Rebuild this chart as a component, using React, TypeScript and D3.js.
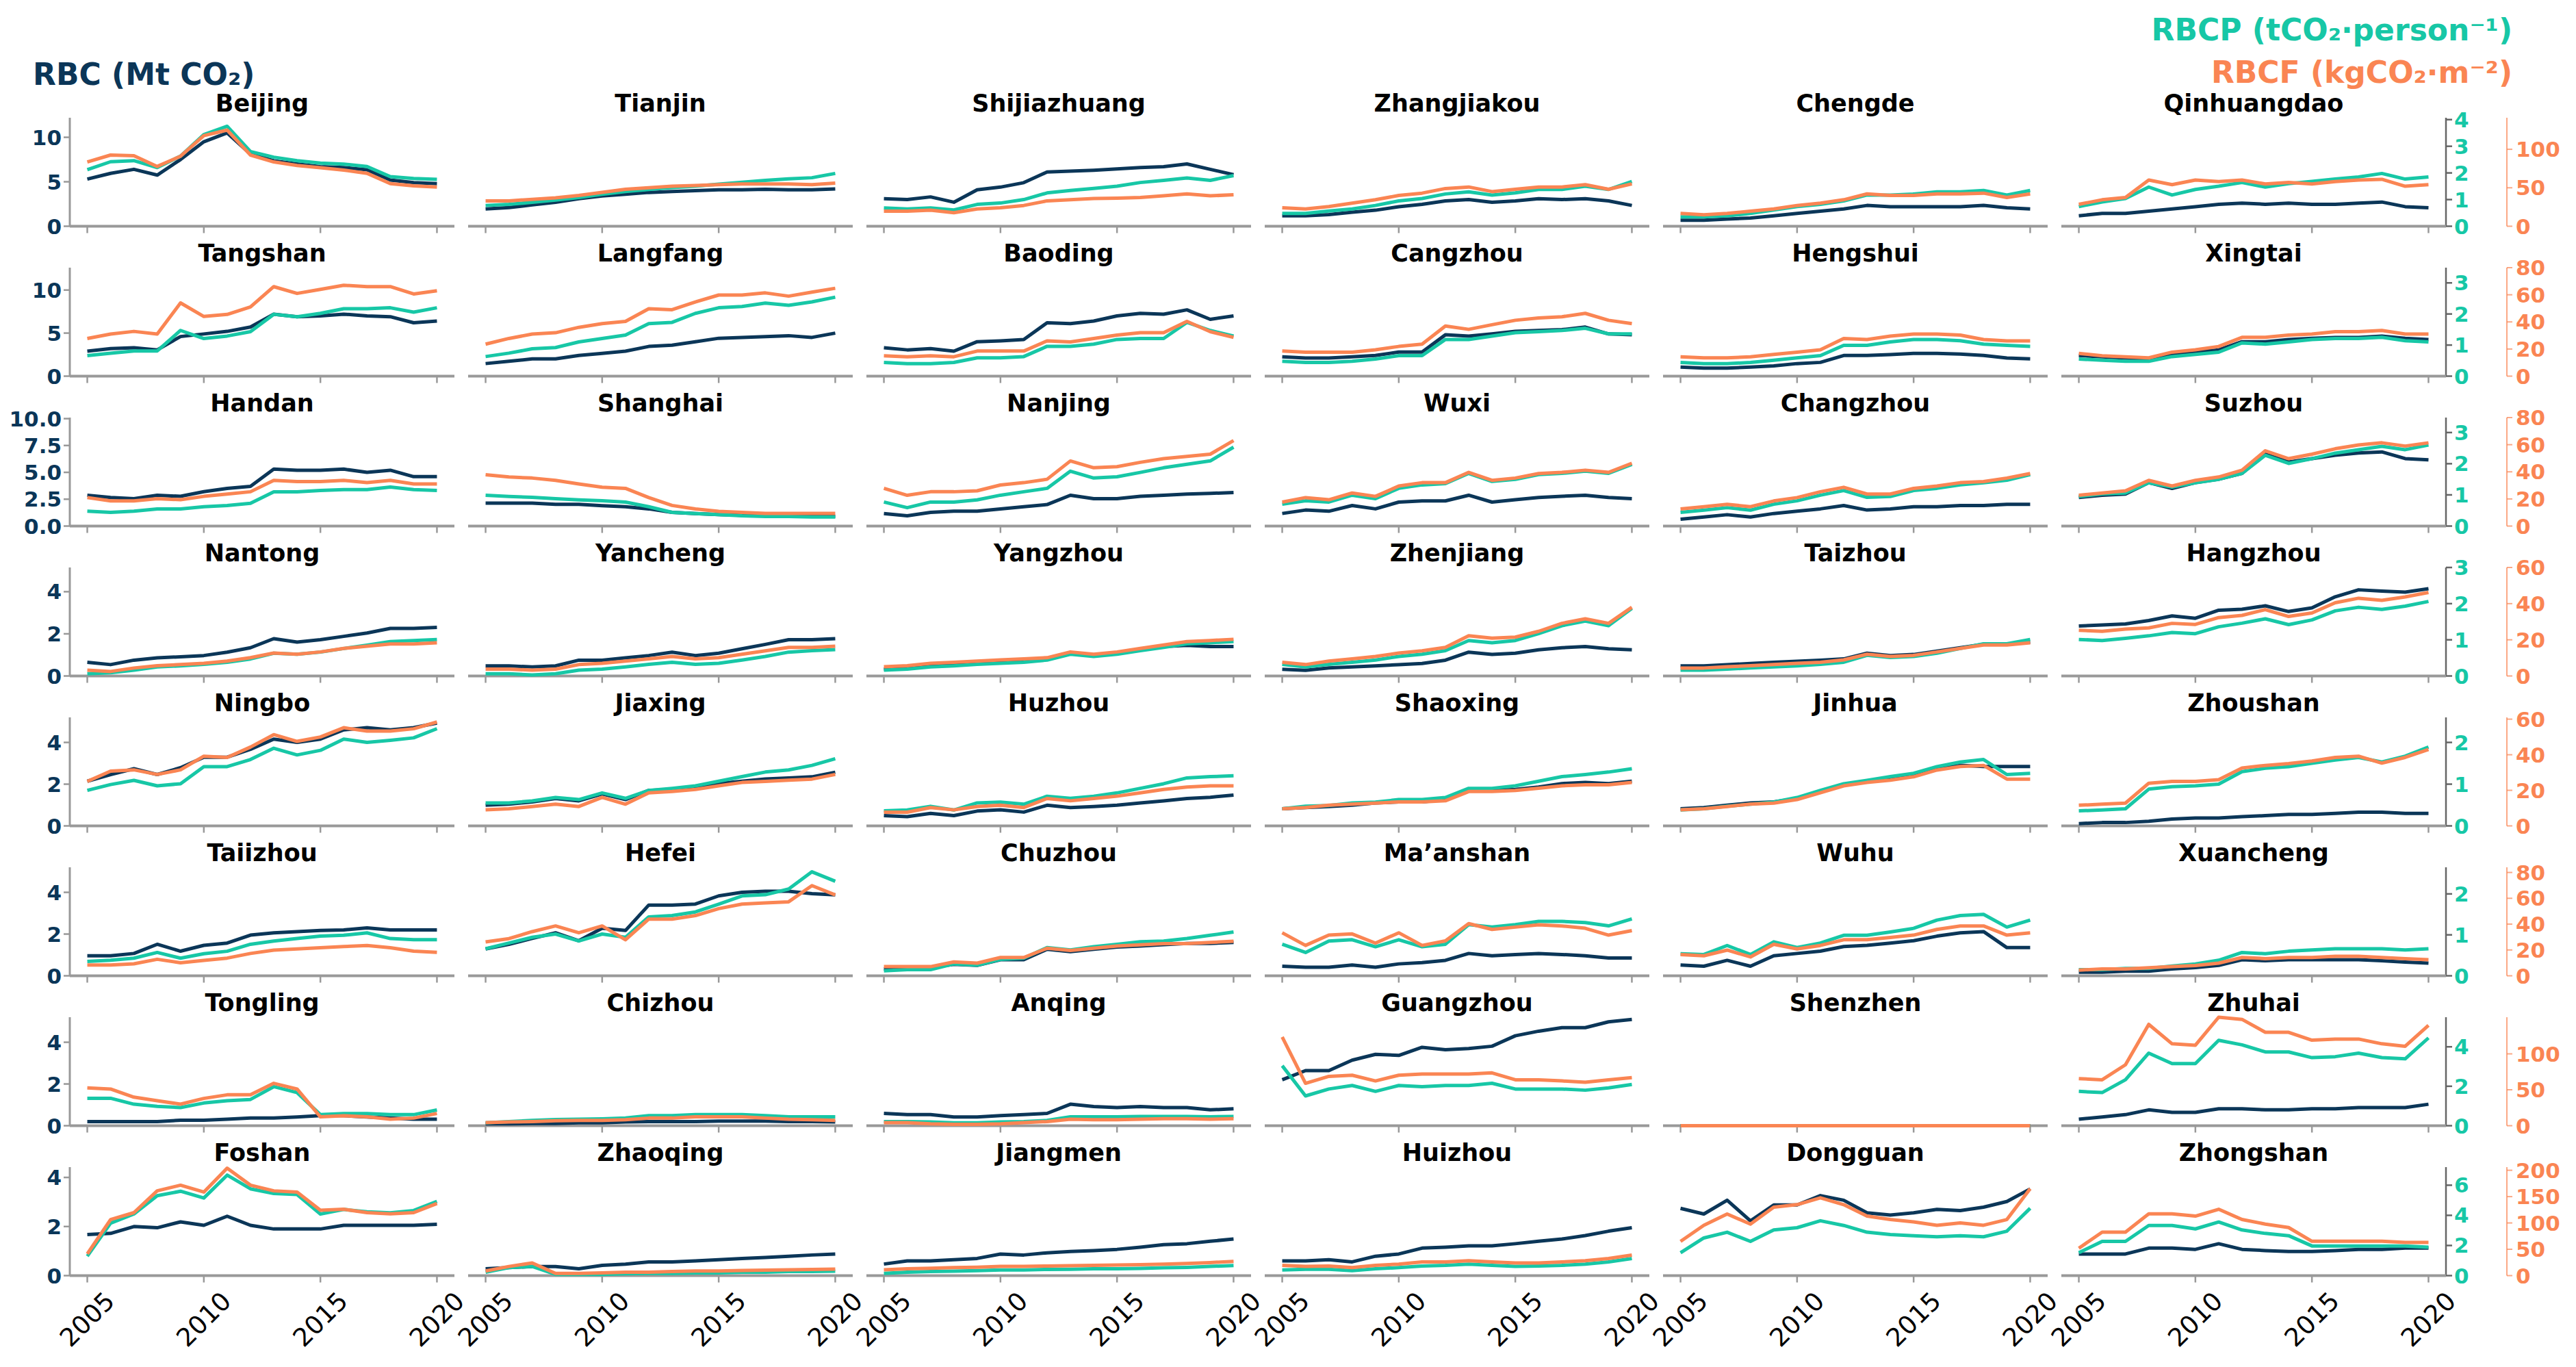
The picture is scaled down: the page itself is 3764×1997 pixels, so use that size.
import * as d3 from "d3"

const years = [2005, 2006, 2007, 2008, 2009, 2010, 2011, 2012, 2013, 2014, 2015, 2016, 2017, 2018, 2019, 2020]
const xTicks = [2005, 2010, 2015, 2020]

const cities = [
  "Beijing", "Tianjin", "Shijiazhuang", "Zhangjiakou", "Chengde", "Qinhuangdao",
  "Tangshan", "Langfang", "Baoding", "Cangzhou", "Hengshui", "Xingtai",
  "Handan", "Shanghai", "Nanjing", "Wuxi", "Changzhou", "Suzhou",
  "Nantong", "Yancheng", "Yangzhou", "Zhenjiang", "Taizhou", "Hangzhou",
  "Ningbo", "Jiaxing", "Huzhou", "Shaoxing", "Jinhua", "Zhoushan",
  "Taiizhou", "Hefei", "Chuzhou", "Ma\u2019anshan", "Wuhu", "Xuancheng",
  "Tongling", "Chizhou", "Anqing", "Guangzhou", "Shenzhen", "Zhuhai",
  "Foshan", "Zhaoqing", "Jiangmen", "Huizhou", "Dongguan", "Zhongshan",
]

// RBC (Mt CO2), left axis
const rbc = [
  [5.3, 5.95, 6.4, 5.75, 7.5, 9.5, 10.5, 8.1, 7.35, 7.0, 6.7, 6.6, 6.35, 5.2, 4.9, 4.8],
  [1.95, 2.1, 2.4, 2.7, 3.1, 3.4, 3.6, 3.8, 3.9, 4.0, 4.1, 4.1, 4.15, 4.1, 4.1, 4.2],
  [3.1, 3.0, 3.3, 2.7, 4.1, 4.4, 4.9, 6.1, 6.2, 6.3, 6.45, 6.6, 6.7, 7.0, 6.4, 5.8],
  [1.18, 1.18, 1.3, 1.57, 1.8, 2.2, 2.47, 2.85, 3.0, 2.7, 2.85, 3.1, 3.0, 3.1, 2.85, 2.34],
  [0.67, 0.67, 0.8, 0.93, 1.18, 1.44, 1.7, 1.95, 2.34, 2.2, 2.2, 2.2, 2.2, 2.34, 2.08, 1.95],
  [1.18, 1.44, 1.44, 1.7, 1.95, 2.2, 2.47, 2.6, 2.47, 2.6, 2.47, 2.47, 2.6, 2.72, 2.2, 2.08],
  [2.9, 3.2, 3.3, 3.05, 4.6, 4.9, 5.2, 5.7, 7.2, 6.9, 7.0, 7.2, 7.0, 6.9, 6.2, 6.4],
  [1.46, 1.72, 2.0, 2.0, 2.4, 2.65, 2.9, 3.45, 3.6, 4.0, 4.4, 4.5, 4.6, 4.7, 4.5, 5.0],
  [3.3, 3.05, 3.2, 2.9, 4.0, 4.1, 4.25, 6.2, 6.1, 6.4, 7.0, 7.3, 7.2, 7.7, 6.6, 7.0],
  [2.25, 2.1, 2.1, 2.25, 2.4, 2.8, 2.8, 4.8, 4.65, 4.9, 5.2, 5.3, 5.4, 5.7, 4.9, 4.8],
  [1.06, 0.93, 0.93, 1.06, 1.2, 1.46, 1.6, 2.4, 2.4, 2.5, 2.65, 2.65, 2.57, 2.4, 2.1, 2.0],
  [2.4, 2.25, 2.1, 2.0, 2.5, 2.8, 3.05, 4.0, 4.0, 4.25, 4.4, 4.5, 4.5, 4.65, 4.4, 4.25],
  [2.87, 2.66, 2.55, 2.87, 2.77, 3.2, 3.5, 3.7, 5.3, 5.2, 5.2, 5.3, 5.0, 5.2, 4.6, 4.6],
  [2.13, 2.13, 2.13, 2.02, 2.02, 1.9, 1.8, 1.6, 1.28, 1.17, 1.06, 1.0, 0.96, 0.91, 0.91, 0.91],
  [1.17, 0.96, 1.28, 1.38, 1.38, 1.6, 1.8, 2.0, 2.87, 2.55, 2.55, 2.77, 2.87, 2.98, 3.04, 3.13],
  [1.17, 1.49, 1.38, 1.91, 1.6, 2.23, 2.34, 2.34, 2.87, 2.23, 2.45, 2.66, 2.77, 2.87, 2.66, 2.55],
  [0.64, 0.85, 1.06, 0.85, 1.17, 1.38, 1.6, 1.91, 1.49, 1.6, 1.8, 1.8, 1.91, 1.91, 2.02, 2.02],
  [2.66, 2.87, 2.98, 4.04, 3.5, 4.04, 4.36, 4.9, 6.7, 5.96, 6.28, 6.6, 6.8, 6.9, 6.28, 6.17],
  [0.65, 0.54, 0.75, 0.86, 0.91, 0.97, 1.13, 1.34, 1.77, 1.61, 1.72, 1.88, 2.04, 2.26, 2.26, 2.31],
  [0.48, 0.48, 0.43, 0.48, 0.75, 0.75, 0.86, 0.97, 1.13, 0.97, 1.08, 1.29, 1.5, 1.72, 1.72, 1.77],
  [0.32, 0.43, 0.54, 0.59, 0.65, 0.7, 0.75, 0.81, 1.08, 0.97, 1.08, 1.24, 1.4, 1.45, 1.4, 1.4],
  [0.32, 0.27, 0.38, 0.43, 0.48, 0.54, 0.59, 0.75, 1.13, 1.02, 1.08, 1.24, 1.34, 1.4, 1.29, 1.24],
  [0.48, 0.48, 0.54, 0.59, 0.65, 0.7, 0.75, 0.81, 1.08, 0.97, 1.02, 1.18, 1.34, 1.5, 1.5, 1.61],
  [2.37, 2.42, 2.47, 2.63, 2.85, 2.74, 3.12, 3.17, 3.33, 3.06, 3.23, 3.76, 4.09, 4.03, 3.98, 4.14],
  [2.14, 2.46, 2.74, 2.46, 2.79, 3.29, 3.29, 3.67, 4.16, 4.0, 4.16, 4.6, 4.71, 4.6, 4.71, 4.93],
  [0.99, 1.04, 1.15, 1.31, 1.2, 1.53, 1.26, 1.7, 1.75, 1.86, 2.03, 2.14, 2.25, 2.3, 2.35, 2.57],
  [0.49, 0.44, 0.6, 0.49, 0.71, 0.77, 0.66, 0.99, 0.88, 0.93, 0.99, 1.1, 1.2, 1.31, 1.37, 1.48],
  [0.82, 0.88, 0.93, 0.99, 1.1, 1.15, 1.15, 1.26, 1.7, 1.7, 1.75, 1.86, 2.03, 2.08, 2.03, 2.14],
  [0.82, 0.88, 0.99, 1.1, 1.15, 1.31, 1.64, 1.97, 2.14, 2.3, 2.46, 2.74, 2.9, 2.85, 2.85, 2.85],
  [0.11, 0.16, 0.16, 0.22, 0.33, 0.38, 0.38, 0.44, 0.49, 0.55, 0.55, 0.6, 0.66, 0.66, 0.6, 0.6],
  [0.96, 0.96, 1.07, 1.51, 1.18, 1.46, 1.57, 1.95, 2.06, 2.12, 2.17, 2.2, 2.3, 2.2, 2.2, 2.2],
  [1.29, 1.51, 1.79, 2.06, 1.68, 2.28, 2.17, 3.39, 3.39, 3.44, 3.83, 4.0, 4.05, 4.05, 3.94, 3.88],
  [0.33, 0.33, 0.39, 0.55, 0.5, 0.77, 0.77, 1.27, 1.16, 1.27, 1.38, 1.43, 1.49, 1.55, 1.55, 1.6],
  [0.46, 0.41, 0.41, 0.52, 0.41, 0.57, 0.63, 0.74, 1.07, 0.96, 1.02, 1.07, 1.02, 0.96, 0.85, 0.85],
  [0.52, 0.46, 0.74, 0.46, 0.96, 1.07, 1.18, 1.4, 1.46, 1.57, 1.68, 1.9, 2.06, 2.12, 1.35, 1.35],
  [0.17, 0.17, 0.22, 0.22, 0.33, 0.39, 0.5, 0.77, 0.72, 0.77, 0.77, 0.77, 0.77, 0.72, 0.66, 0.61],
  [0.2, 0.2, 0.2, 0.2, 0.26, 0.26, 0.31, 0.37, 0.37, 0.42, 0.48, 0.48, 0.42, 0.37, 0.31, 0.31],
  [0.09, 0.09, 0.11, 0.11, 0.14, 0.14, 0.18, 0.2, 0.2, 0.2, 0.22, 0.22, 0.22, 0.2, 0.2, 0.18],
  [0.59, 0.53, 0.53, 0.42, 0.42, 0.48, 0.53, 0.59, 1.03, 0.92, 0.87, 0.92, 0.87, 0.87, 0.76, 0.81],
  [2.2, 2.64, 2.64, 3.14, 3.42, 3.37, 3.76, 3.64, 3.7, 3.81, 4.31, 4.53, 4.7, 4.7, 4.98, 5.09],
  [0, 0, 0, 0, 0, 0, 0, 0, 0, 0, 0, 0, 0, 0, 0, 0],
  [0.31, 0.42, 0.53, 0.76, 0.64, 0.64, 0.81, 0.81, 0.76, 0.76, 0.81, 0.81, 0.87, 0.87, 0.87, 1.03],
  [1.67, 1.72, 2.0, 1.95, 2.19, 2.05, 2.42, 2.05, 1.9, 1.9, 1.9, 2.05, 2.05, 2.05, 2.05, 2.09],
  [0.28, 0.33, 0.37, 0.37, 0.28, 0.42, 0.47, 0.56, 0.56, 0.6, 0.65, 0.7, 0.74, 0.79, 0.84, 0.88],
  [0.47, 0.6, 0.6, 0.65, 0.7, 0.88, 0.84, 0.93, 0.98, 1.02, 1.07, 1.16, 1.26, 1.3, 1.4, 1.49],
  [0.6, 0.6, 0.65, 0.56, 0.79, 0.88, 1.12, 1.16, 1.21, 1.21, 1.3, 1.4, 1.49, 1.63, 1.81, 1.95],
  [2.74, 2.51, 3.07, 2.23, 2.88, 2.88, 3.26, 3.07, 2.56, 2.47, 2.56, 2.7, 2.65, 2.79, 3.02, 3.53],
  [0.88, 0.88, 0.88, 1.12, 1.12, 1.07, 1.3, 1.07, 1.02, 0.98, 0.98, 1.02, 1.07, 1.07, 1.12, 1.12],
]

// RBCP (tCO2 per person), first right axis
const rbcp = [
  [2.12, 2.42, 2.46, 2.2, 2.63, 3.44, 3.75, 2.8, 2.59, 2.46, 2.37, 2.33, 2.24, 1.86, 1.79, 1.76],
  [0.78, 0.82, 0.9, 0.98, 1.08, 1.2, 1.3, 1.38, 1.45, 1.5, 1.58, 1.65, 1.72, 1.78, 1.82, 1.98],
  [0.69, 0.65, 0.69, 0.61, 0.82, 0.87, 1.0, 1.25, 1.34, 1.42, 1.5, 1.64, 1.72, 1.81, 1.72, 1.9],
  [0.48, 0.48, 0.57, 0.65, 0.78, 0.95, 1.04, 1.21, 1.29, 1.17, 1.25, 1.38, 1.38, 1.5, 1.38, 1.68],
  [0.35, 0.35, 0.39, 0.48, 0.61, 0.74, 0.82, 0.95, 1.17, 1.17, 1.21, 1.29, 1.29, 1.34, 1.17, 1.34],
  [0.74, 0.91, 1.04, 1.47, 1.17, 1.38, 1.5, 1.64, 1.47, 1.6, 1.68, 1.77, 1.85, 1.98, 1.77, 1.85],
  [0.66, 0.74, 0.81, 0.81, 1.47, 1.21, 1.29, 1.43, 1.99, 1.91, 2.02, 2.17, 2.17, 2.2, 2.06, 2.2],
  [0.63, 0.74, 0.88, 0.92, 1.1, 1.21, 1.32, 1.69, 1.73, 2.02, 2.2, 2.24, 2.35, 2.28, 2.39, 2.54],
  [0.44, 0.4, 0.4, 0.44, 0.59, 0.59, 0.63, 0.96, 0.96, 1.03, 1.18, 1.21, 1.21, 1.73, 1.47, 1.29],
  [0.48, 0.44, 0.44, 0.48, 0.55, 0.66, 0.66, 1.18, 1.18, 1.29, 1.4, 1.43, 1.47, 1.54, 1.36, 1.36],
  [0.44, 0.4, 0.4, 0.44, 0.51, 0.59, 0.66, 0.99, 0.99, 1.1, 1.18, 1.18, 1.14, 1.03, 0.99, 0.96],
  [0.55, 0.51, 0.48, 0.48, 0.63, 0.7, 0.77, 1.07, 1.03, 1.1, 1.18, 1.21, 1.21, 1.25, 1.14, 1.1],
  [0.48, 0.44, 0.48, 0.55, 0.55, 0.62, 0.66, 0.73, 1.1, 1.1, 1.14, 1.17, 1.17, 1.25, 1.17, 1.14],
  [0.99, 0.95, 0.92, 0.88, 0.84, 0.81, 0.77, 0.62, 0.44, 0.4, 0.37, 0.33, 0.31, 0.31, 0.29, 0.29],
  [0.77, 0.59, 0.77, 0.77, 0.84, 0.99, 1.1, 1.21, 1.76, 1.54, 1.58, 1.72, 1.87, 1.98, 2.09, 2.53],
  [0.7, 0.81, 0.77, 0.99, 0.88, 1.21, 1.32, 1.36, 1.69, 1.43, 1.5, 1.65, 1.69, 1.76, 1.69, 1.98],
  [0.44, 0.51, 0.59, 0.51, 0.7, 0.81, 0.99, 1.14, 0.92, 0.95, 1.14, 1.21, 1.32, 1.39, 1.47, 1.65],
  [0.95, 1.03, 1.06, 1.39, 1.25, 1.39, 1.5, 1.69, 2.27, 2.01, 2.16, 2.34, 2.45, 2.56, 2.45, 2.6],
  [0.06, 0.09, 0.16, 0.25, 0.28, 0.32, 0.38, 0.47, 0.63, 0.6, 0.66, 0.76, 0.85, 0.95, 0.98, 1.01],
  [0.06, 0.06, 0.03, 0.06, 0.16, 0.19, 0.25, 0.32, 0.38, 0.32, 0.35, 0.44, 0.54, 0.66, 0.7, 0.73],
  [0.16, 0.19, 0.25, 0.28, 0.32, 0.35, 0.38, 0.44, 0.6, 0.54, 0.6, 0.7, 0.79, 0.89, 0.92, 0.95],
  [0.32, 0.25, 0.32, 0.38, 0.44, 0.54, 0.6, 0.7, 0.98, 0.92, 0.98, 1.17, 1.39, 1.52, 1.39, 1.87],
  [0.16, 0.16, 0.19, 0.22, 0.25, 0.28, 0.32, 0.38, 0.57, 0.51, 0.54, 0.63, 0.76, 0.89, 0.89, 1.01],
  [1.01, 0.98, 1.04, 1.11, 1.2, 1.17, 1.36, 1.46, 1.58, 1.42, 1.55, 1.8, 1.9, 1.84, 1.93, 2.06],
  [0.85, 0.99, 1.09, 0.96, 1.01, 1.42, 1.42, 1.59, 1.86, 1.7, 1.81, 2.08, 2.0, 2.05, 2.11, 2.33],
  [0.55, 0.55, 0.6, 0.68, 0.63, 0.79, 0.66, 0.85, 0.9, 0.96, 1.07, 1.18, 1.29, 1.34, 1.45, 1.61],
  [0.36, 0.38, 0.47, 0.38, 0.55, 0.57, 0.52, 0.71, 0.66, 0.71, 0.79, 0.9, 1.01, 1.15, 1.18, 1.2],
  [0.41, 0.47, 0.49, 0.55, 0.57, 0.63, 0.63, 0.68, 0.9, 0.9, 0.96, 1.07, 1.18, 1.23, 1.29, 1.37],
  [0.38, 0.41, 0.47, 0.52, 0.57, 0.68, 0.85, 1.01, 1.09, 1.18, 1.26, 1.42, 1.53, 1.59, 1.23, 1.26],
  [0.36, 0.38, 0.41, 0.88, 0.94, 0.96, 1.0, 1.3, 1.38, 1.42, 1.5, 1.58, 1.64, 1.53, 1.67, 1.89],
  [0.35, 0.38, 0.43, 0.57, 0.43, 0.54, 0.6, 0.77, 0.85, 0.91, 0.97, 0.99, 1.05, 0.91, 0.88, 0.88],
  [0.66, 0.8, 0.94, 1.02, 0.85, 1.02, 0.94, 1.44, 1.47, 1.56, 1.75, 1.95, 1.98, 2.12, 2.54, 2.31],
  [0.12, 0.15, 0.15, 0.29, 0.26, 0.4, 0.43, 0.69, 0.63, 0.71, 0.77, 0.83, 0.85, 0.91, 0.99, 1.07],
  [0.77, 0.57, 0.85, 0.88, 0.71, 0.88, 0.71, 0.77, 1.25, 1.19, 1.25, 1.33, 1.33, 1.3, 1.22, 1.39],
  [0.54, 0.52, 0.74, 0.52, 0.83, 0.69, 0.8, 0.99, 0.99, 1.07, 1.16, 1.36, 1.47, 1.5, 1.19, 1.36],
  [0.15, 0.15, 0.18, 0.18, 0.24, 0.29, 0.38, 0.57, 0.54, 0.6, 0.63, 0.66, 0.66, 0.66, 0.63, 0.66],
  [1.39, 1.39, 1.09, 0.98, 0.92, 1.15, 1.27, 1.33, 1.98, 1.68, 0.56, 0.62, 0.62, 0.56, 0.56, 0.8],
  [0.15, 0.21, 0.27, 0.31, 0.33, 0.35, 0.39, 0.51, 0.51, 0.56, 0.56, 0.56, 0.51, 0.45, 0.45, 0.45],
  [0.21, 0.21, 0.19, 0.15, 0.15, 0.19, 0.21, 0.27, 0.45, 0.45, 0.45, 0.47, 0.47, 0.47, 0.45, 0.47],
  [3.04, 1.51, 1.86, 2.04, 1.74, 2.04, 1.98, 2.04, 2.04, 2.15, 1.86, 1.86, 1.86, 1.8, 1.92, 2.09],
  [0, 0, 0, 0, 0, 0, 0, 0, 0, 0, 0, 0, 0, 0, 0, 0],
  [1.74, 1.68, 2.33, 3.68, 3.15, 3.15, 4.33, 4.1, 3.74, 3.74, 3.45, 3.5, 3.68, 3.45, 3.39, 4.45],
  [1.29, 3.48, 4.09, 5.3, 5.6, 5.15, 6.67, 5.76, 5.45, 5.38, 4.09, 4.39, 4.24, 4.17, 4.32, 4.92],
  [0.23, 0.53, 0.61, 0.08, 0.08, 0.08, 0.12, 0.15, 0.15, 0.18, 0.18, 0.23, 0.23, 0.27, 0.27, 0.3],
  [0.15, 0.23, 0.27, 0.3, 0.33, 0.38, 0.38, 0.41, 0.42, 0.45, 0.45, 0.48, 0.52, 0.55, 0.61, 0.67],
  [0.38, 0.42, 0.42, 0.33, 0.45, 0.53, 0.64, 0.68, 0.76, 0.68, 0.61, 0.64, 0.68, 0.76, 0.91, 1.14],
  [1.52, 2.5, 2.88, 2.27, 3.03, 3.18, 3.64, 3.33, 2.88, 2.73, 2.65, 2.58, 2.65, 2.58, 2.95, 4.47],
  [1.52, 2.27, 2.27, 3.33, 3.33, 3.1, 3.56, 3.03, 2.8, 2.65, 1.97, 1.97, 1.97, 1.97, 1.97, 1.89],
]

// RBCF (kgCO2 per m2), second right axis
const rbcf = [
  [83.6, 92.5, 91.6, 77.7, 91, 117.7, 125, 92.5, 83.6, 79, 76, 73, 68.8, 55.4, 52.5, 51],
  [33, 33, 35, 37, 40, 44, 48, 50, 52, 53, 54, 55, 55, 55, 54, 56],
  [19.6, 19.6, 21, 17.5, 22.5, 24, 27, 33, 34.4, 36, 36.5, 37.4, 39.5, 42, 39.5, 41],
  [24, 22.5, 25.5, 30, 34.4, 40, 43, 49, 51, 45, 48, 51, 51, 54, 48, 55],
  [16.6, 15, 16.6, 19.6, 22.5, 27, 30, 34.4, 42, 40, 40, 42, 42, 43, 37.4, 42],
  [28.5, 34.4, 37.4, 60, 54, 60, 58, 60, 55, 57, 55, 58, 60, 61, 52, 54],
  [27.8, 31, 33, 31, 54, 44, 45.5, 51, 66, 61, 64, 67, 66, 66, 60.6, 63],
  [23.6, 27.8, 31, 32, 36, 38.7, 40.4, 49.7, 49, 54.7, 59.8, 59.8, 61.4, 59, 62, 64.8],
  [15, 14.3, 15, 14.3, 18.5, 18.5, 18.5, 26, 25.2, 27.8, 30.3, 32, 32, 40.4, 32.8, 28.6],
  [18.5, 17.7, 17.7, 17.7, 19.4, 21.9, 23.6, 37, 34.5, 37.9, 41.2, 42.9, 43.8, 46.3, 41.2, 38.7],
  [14.3, 13.5, 13.5, 14.3, 16, 17.7, 19.4, 27.8, 27, 29.5, 31, 31, 30.3, 27, 26, 26],
  [16.8, 15, 14.3, 13.5, 17.7, 19.4, 21.9, 28.6, 28.6, 30.3, 31, 32.8, 32.8, 33.7, 31, 31],
  [21, 18.5, 18.5, 20.2, 19.4, 21.9, 23.6, 25.3, 33.7, 32.8, 32.8, 33.7, 32, 33.7, 31, 31],
  [37.9, 36.2, 35.4, 33.7, 31, 28.6, 27.8, 21, 15.2, 12.6, 10.9, 10.1, 9.3, 9.3, 9.3, 9.3],
  [27.8, 22.7, 25.3, 25.3, 26, 30.3, 32, 34.5, 48, 43, 43.8, 47, 49.7, 51.3, 53, 63],
  [17.7, 21, 19.4, 24.4, 21.9, 29.5, 32, 32, 39.6, 33.7, 35.4, 38.7, 39.6, 41.2, 39.6, 46.3],
  [12.6, 14.3, 16, 14.3, 18.5, 21, 25.3, 28.6, 23.6, 23.6, 27.8, 29.5, 32, 32.8, 35.4, 38.7],
  [22.7, 24.4, 26, 33.7, 29.5, 33.7, 36.2, 41.2, 55.5, 49.7, 53, 57, 59.8, 61.4, 59, 61.4],
  [3.2, 2.5, 4.4, 5.7, 6.3, 7, 8.2, 10.1, 12.7, 12, 13.3, 15.2, 16.5, 17.7, 17.7, 18.4],
  [3.8, 3.8, 3.2, 3.8, 6.3, 7, 8.2, 9.5, 10.8, 9.5, 10.1, 12, 13.9, 15.8, 15.8, 16.5],
  [5.1, 5.7, 7, 7.6, 8.2, 8.9, 9.5, 10.1, 13.3, 12, 13.3, 15.2, 17.1, 19, 19.6, 20.3],
  [7.6, 6.3, 8.2, 9.5, 10.8, 12.7, 13.9, 15.8, 22.2, 20.9, 21.5, 24.7, 29.1, 31.6, 29.1, 38],
  [4.4, 4.4, 5.1, 5.7, 6.3, 7, 7.6, 8.9, 12, 10.8, 11.4, 13.3, 15.2, 17.1, 17.1, 18.4],
  [25.3, 24.7, 25.9, 26.6, 29.1, 28.5, 32.3, 33.5, 36.7, 32.9, 34.8, 40.5, 43, 41.8, 43.7, 46.2],
  [25, 30.8, 31.5, 28.9, 31.5, 39.2, 38.5, 44.3, 51.3, 47.5, 50, 55.2, 53.3, 53.3, 54.6, 58.4],
  [9, 9.6, 10.9, 12.2, 10.9, 16, 12.2, 18.6, 19.3, 20.5, 22.5, 24.4, 25, 25.7, 26.3, 28.9],
  [7.7, 7.7, 10.3, 9, 10.9, 11.6, 10.3, 15.4, 14.1, 15.4, 16.7, 18.6, 20.5, 21.8, 22.5, 22.5],
  [9.6, 10.3, 11.6, 12.2, 12.8, 13.5, 13.5, 14.1, 19.3, 19.3, 19.9, 21.2, 22.5, 23.1, 23.1, 24.4],
  [9, 9.6, 10.9, 12.2, 12.8, 14.8, 18.6, 22.5, 24.4, 25.7, 27.6, 31.4, 33.4, 34, 26.3, 26.3],
  [11.6, 12.2, 12.8, 24, 25, 25, 26, 32.5, 34, 35, 36.5, 38.5, 39.2, 35.3, 38.5, 43],
  [8.4, 8.4, 9.3, 12.8, 10.1, 11.9, 13.7, 17.3, 19.9, 20.8, 21.7, 22.6, 23.5, 21.7, 19.1, 18.2],
  [26.2, 28.8, 34.2, 38.6, 33.3, 38.6, 27.9, 43.9, 43.9, 46.6, 52, 55.5, 56.4, 57.3, 69.8, 62.6],
  [7.1, 7.1, 7.1, 10.7, 9.8, 14.2, 14.2, 21.3, 19.6, 21.3, 23.1, 24, 24.9, 24.9, 25.8, 26.7],
  [33.3, 23.5, 31.5, 32.4, 25.3, 33.3, 23.5, 27, 40.4, 35.9, 37.7, 39.5, 38.6, 36.8, 31.5, 35],
  [16.4, 15.5, 19.9, 14.6, 24.4, 20.8, 23.5, 27.9, 27.9, 29.7, 31.5, 35.9, 38.6, 38.6, 31.5, 33.3],
  [4.4, 5.3, 5.3, 6.2, 7.1, 8, 9.8, 14.2, 13.3, 14.2, 14.2, 15.1, 15.1, 14.2, 13.3, 12.5],
  [52.6, 51, 39.7, 34.8, 30, 38, 43, 43, 59, 51, 12.3, 13.9, 12.3, 9, 10.6, 17],
  [4.2, 5.2, 5.8, 6.8, 7.4, 7.4, 8.4, 10.6, 10.6, 12.3, 12.3, 12.3, 10.6, 9, 8.4, 7.4],
  [4.2, 4.2, 2.6, 1.9, 1.9, 2.6, 4.2, 5.8, 9, 8.4, 8.4, 9, 9.7, 9.7, 9, 9.7],
  [123.5, 59, 68.7, 70.3, 62.3, 70.3, 72, 72, 72, 73.5, 63.9, 63.9, 62.3, 60.6, 63.9, 67],
  [0, 0, 0, 0, 0, 0, 0, 0, 0, 0, 0, 0, 0, 0, 0, 0],
  [65.5, 63.9, 84.8, 141, 114, 112, 151, 148, 130, 130, 119, 120.6, 120.6, 114, 110.6, 139.6],
  [41.3, 106.5, 119.6, 161, 171.7, 158.7, 204, 171.7, 161, 158.7, 124, 126, 119.6, 117.4, 119.6, 137],
  [8.7, 17.4, 24, 4.3, 4.3, 5.2, 6.5, 6.5, 7.8, 8.7, 8.7, 9.6, 10.4, 10.9, 11.7, 12.2],
  [10.9, 13, 13.9, 15.2, 16, 17.4, 17.4, 18.3, 18.7, 19.6, 20, 20.9, 21.7, 23, 24.8, 27],
  [19.6, 17.4, 18.3, 15.2, 19.6, 21.7, 26, 26, 28.3, 26, 23.9, 23.9, 26, 28.3, 32.6, 39],
  [65, 95.6, 117, 97.8, 130, 134.8, 147.8, 134.8, 113, 106.5, 102, 95.6, 100, 95.6, 106.5, 165],
  [52, 82.6, 82.6, 117.4, 117.4, 113, 126, 106.5, 97.8, 91.3, 65.2, 65.2, 65.2, 65.2, 63, 63],
]

// shared y ranges and ticks for each row
const rbcMax = [12.2, 12.6, 10.1, 5.15, 5.2, 5.2, 5.2, 4.42]
const rbcTicks = [[0, 5, 10], [0, 5, 10], [0, 2.5, 5, 7.5, 10], [0, 2, 4], [0, 2, 4], [0, 2, 4], [0, 2, 4], [0, 2, 4]]
const rbcpMax = [4.07, 3.49, 3.48, 3.0, 2.6, 2.65, 5.5, 7.2]
const rbcpTicks = [[0, 1, 2, 3, 4], [0, 1, 2, 3], [0, 1, 2, 3], [0, 1, 2, 3], [0, 1, 2], [0, 1, 2], [0, 2, 4], [0, 2, 4, 6]]
const rbcfMax = [141, 80, 80, 60, 61, 84, 151, 206]
const rbcfTicks = [[0, 50, 100], [0, 20, 40, 60, 80], [0, 20, 40, 60, 80], [0, 20, 40, 60], [0, 20, 40, 60], [0, 20, 40, 60, 80], [0, 50, 100], [0, 50, 100, 150, 200]]

const NAVY = "#0b3658"
const TEAL = "#17c7a6"
const ORANGE = "#fa8553"
const GREY = "#999999"
const FONT = "'DejaVu Sans', Verdana, sans-serif"

const W = 3764
const H = 1997
const COLS = 6
const left0 = 102
const panelW = 562
const colStep = 582
const top0 = 172
const rowStep = 219
const panelH = 158.5
const tealAxisX = left0 + (COLS - 1) * colStep + panelW
const orangeAxisX = 3663

export default function App() {
  const rows = d3.range(rbcMax.length)
  const fmtRow3 = d3.format(".1f")

  return (
    <div style={{ position: "absolute", left: 0, top: 0 }}>
      <svg width={W} height={H} style={{ display: "block", background: "#fff", fontFamily: FONT }}>
        <text x={48} y={124} fontSize={44} fontWeight="bold" fill={NAVY}>RBC (Mt CO₂)</text>
        <text x={3671} y={59} fontSize={44} fontWeight="bold" fill={TEAL} textAnchor="end">RBCP (tCO₂·person⁻¹)</text>
        <text x={3671} y={121} fontSize={44} fontWeight="bold" fill={ORANGE} textAnchor="end">RBCF (kgCO₂·m⁻²)</text>

        {rows.map((r) => {
          const top = top0 + r * rowStep
          const bottom = top + panelH
          const yL = d3.scaleLinear().domain([0, rbcMax[r]]).range([bottom, top])
          const yP = d3.scaleLinear().domain([0, rbcpMax[r]]).range([bottom, top])
          const yF = d3.scaleLinear().domain([0, rbcfMax[r]]).range([bottom, top])
          const lastRow = r === rows.length - 1

          return (
            <g key={r}>
              {/* left RBC axis, first column only */}
              <line x1={left0} x2={left0} y1={top} y2={bottom} stroke={GREY} strokeWidth={3} />
              {rbcTicks[r].map((t) => (
                <g key={t}>
                  <line x1={left0 - 9} x2={left0} y1={yL(t)} y2={yL(t)} stroke={GREY} strokeWidth={2.5} />
                  <text x={left0 - 12} y={yL(t)} fontSize={31} fontWeight="bold" fill={NAVY}
                    textAnchor="end" dominantBaseline="central">
                    {r === 2 ? fmtRow3(t) : t}
                  </text>
                </g>
              ))}

              {/* right RBCP axis */}
              <line x1={tealAxisX} x2={tealAxisX} y1={top} y2={bottom} stroke="#666" strokeWidth={2.5} />
              {rbcpTicks[r].map((t) => (
                <g key={t}>
                  <line x1={tealAxisX} x2={tealAxisX + 9} y1={yP(t)} y2={yP(t)} stroke="#666" strokeWidth={2.5} />
                  <text x={tealAxisX + 12} y={yP(t)} fontSize={31} fontWeight="bold" fill={TEAL}
                    dominantBaseline="central">{t}</text>
                </g>
              ))}

              {/* right RBCF axis */}
              <line x1={orangeAxisX} x2={orangeAxisX} y1={top} y2={bottom} stroke={ORANGE} strokeOpacity={0.7} strokeWidth={2} />
              {rbcfTicks[r].map((t) => (
                <g key={t}>
                  <line x1={orangeAxisX} x2={orangeAxisX + 8} y1={yF(t)} y2={yF(t)} stroke={ORANGE} strokeOpacity={0.7} strokeWidth={2} />
                  <text x={orangeAxisX + 13} y={yF(t)} fontSize={31} fontWeight="bold" fill={ORANGE}
                    dominantBaseline="central">{t}</text>
                </g>
              ))}

              {d3.range(COLS).map((c) => {
                const k = r * COLS + c
                const x0 = left0 + c * colStep
                const x = d3.scaleLinear().domain([2004.25, 2020.75]).range([x0, x0 + panelW])
                const line = (y: d3.ScaleLinear<number, number>) =>
                  d3.line<number>().x((_, i) => x(years[i])).y((d) => y(d))

                return (
                  <g key={c}>
                    <text x={x0 + panelW / 2} y={top - 9} fontSize={35} fontWeight="bold" fill="#000" textAnchor="middle">
                      {cities[k]}
                    </text>
                    <line x1={x0} x2={x0 + panelW} y1={bottom} y2={bottom} stroke={GREY} strokeWidth={4} />
                    {xTicks.map((t) => (
                      <g key={t}>
                        <line x1={x(t)} x2={x(t)} y1={bottom} y2={bottom + 10} stroke={GREY} strokeWidth={2.5} />
                        {lastRow && (
                          <text transform={`translate(${x(t)},${bottom + 64}) rotate(-45)`} fontSize={37}
                            fill="#000" textAnchor="middle" dominantBaseline="central">{t}</text>
                        )}
                      </g>
                    ))}
                    <path d={line(yL)(rbc[k]) ?? ""} fill="none" stroke={NAVY} strokeWidth={5} strokeLinejoin="round" />
                    <path d={line(yP)(rbcp[k]) ?? ""} fill="none" stroke={TEAL} strokeWidth={5} strokeLinejoin="round" />
                    <path d={line(yF)(rbcf[k]) ?? ""} fill="none" stroke={ORANGE} strokeWidth={5} strokeLinejoin="round" />
                  </g>
                )
              })}
            </g>
          )
        })}
      </svg>
    </div>
  )
}
